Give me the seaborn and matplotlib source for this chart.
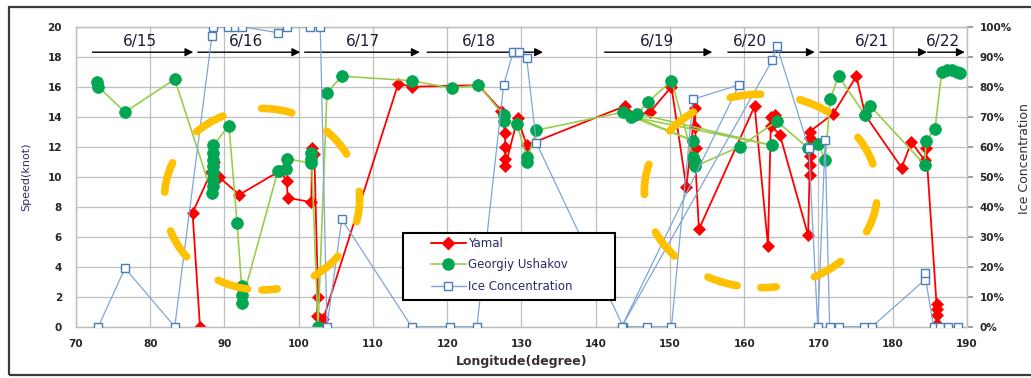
import matplotlib
matplotlib.use('Agg')
import matplotlib.pyplot as plt
import seaborn as sns
import pandas as pd
from matplotlib.patches import Ellipse, Rectangle
from matplotlib.lines import Line2D
from matplotlib.ticker import PercentFormatter

# ---------------- data ----------------
yamal_lon = [86.7, 85.7, 88.2, 88.6, 89.2, 92.0, 97.5, 98.4, 98.5, 101.7,
             101.8, 102.1, 102.6, 102.4, 103.3, 113.4, 115.2, 124.2, 127.3, 127.8,
             127.8, 127.8, 127.8, 129.5, 130.7, 143.9, 145.4, 147.3, 150.2, 152.2,
             153.4, 153.4, 153.5, 153.4, 153.9, 161.4, 163.2, 163.6, 164.2, 163.6,
             164.8, 168.6, 168.8, 168.8, 168.8, 168.8, 168.8, 172.0, 175.1, 176.3,
             181.2, 182.5, 184.3, 184.5, 185.9, 185.9, 186.0, 186.0]
yamal_speed = [0.0, 7.6, 10.3, 11.0, 10.0, 8.8, 10.4, 9.7, 8.6, 8.3,
               11.9, 11.5, 2.0, 0.7, 0.5, 16.2, 16.0, 16.1, 14.4, 12.9,
               12.0, 11.2, 10.7, 13.9, 12.1, 14.7, 14.1, 14.3, 16.0, 9.3,
               14.6, 13.3, 11.9, 11.1, 6.5, 14.7, 5.4, 14.0, 14.1, 13.4,
               12.8, 6.1, 10.1, 10.8, 11.4, 12.6, 13.0, 14.2, 16.7, 14.1,
               10.6, 12.3, 11.1, 11.9, 1.5, 1.2, 0.8, 0.2]

ush_lon = [72.8, 73.0, 76.6, 83.3,
           88.3, 88.4, 88.5, 88.5, 88.5, 88.5, 88.5, 88.5,
           90.6, 91.7, 92.3, 92.3, 92.3,
           97.2, 98.3, 98.4, 101.7, 101.7, 101.7, 102.6,
           103.8, 105.8, 115.2, 120.6, 124.2,
           127.6, 127.6, 129.4, 130.7, 130.7, 132.0,
           143.7, 153.1, 144.8, 163.7, 145.6, 147.1, 150.2,
           153.1, 153.4, 153.4, 159.4, 164.4, 168.6,
           170.0, 170.9, 171.6, 172.7, 176.3, 177.0,
           184.3, 184.5, 185.7, 186.6, 187.3, 188.0, 188.7, 189.1]
ush_speed = [16.3, 16.0, 14.3, 16.5,
             8.9, 9.4, 9.8, 10.3, 10.7, 11.1, 11.6, 12.1,
             13.4, 6.9, 2.7, 2.1, 1.6,
             10.4, 10.5, 11.2, 10.9, 11.2, 11.6, 0.0,
             15.6, 16.7, 16.4, 15.9, 16.1,
             14.1, 13.7, 13.5, 11.3, 11.0, 13.1,
             14.3, 12.4, 14.0, 12.1, 14.2, 15.0, 16.4,
             11.3, 11.0, 10.7, 12.0, 13.7, 11.9,
             12.2, 11.1, 15.2, 16.7, 14.1, 14.7,
             10.8, 12.4, 13.2, 17.0, 17.1, 17.1, 17.0, 16.9]

ice_lon = [73.0, 76.6, 83.3, 88.3, 88.5, 90.5, 91.4, 92.3, 97.2, 98.4,
           101.5, 102.9, 103.8, 105.8, 115.2, 120.4, 124.0, 127.6, 128.9, 129.6,
           130.7, 132.0, 143.7, 146.9, 150.2, 153.1, 159.3, 143.5, 163.8, 164.4,
           168.7, 169.9, 170.9, 171.5, 172.7, 176.1, 177.2, 184.3, 184.3, 185.5,
           186.3, 187.4, 188.8]
ice_pct = [0, 19.5, 0, 96.9, 100, 100, 100, 100, 98, 100,
           100, 100, 0, 35.8, 0, 0, 0, 80.6, 91.7, 91.7,
           89.5, 61.3, 0, 0, 0, 75.8, 80.6, 0, 88.9, 93.6,
           59.5, 0, 62.2, 0, 0, 0, 0, 15.6, 17.8, 0,
           0, 0, 0]

date_labels = ['6/15', '6/16', '6/17', '6/18', '6/19', '6/20', '6/21', '6/22']
date_label_lon = [78.6, 92.9, 108.6, 124.3, 148.2, 160.8, 177.2, 186.8]
arrow_start = [72.2, 86.4, 100.8, 117.3, 141.2, 157.8, 170.2, 184.7]
arrow_end = [85.8, 100.2, 116.3, 132.9, 155.7, 169.5, 184.6, 189.7]

series_names = ['Yamal', 'Georgiy Ushakov', 'Ice Concentration']

# ---------------- styling ----------------
sns.set_theme(style='white')
plt.rcParams['font.family'] = ['DejaVu Sans']

RED = '#FF0000'
GREEN_LINE = '#9ACD4A'
GREEN_MK = '#00A651'
BLUE_LINE = '#7FA6D6'
BLUE_MK = '#4A7EBB'
GRID = '#BFBFBF'
TXT = '#262626'

fig = plt.figure(figsize=(10.31, 3.78), dpi=100)
ax = fig.add_axes([0.0737, 0.1357, 0.8642, 0.7937])

df_y = pd.DataFrame({'lon': yamal_lon, 'speed': yamal_speed})
df_u = pd.DataFrame({'lon': ush_lon, 'speed': ush_speed})
df_i = pd.DataFrame({'lon': ice_lon, 'ice': ice_pct})

sns.lineplot(data=df_y, x='lon', y='speed', sort=False, estimator=None, ax=ax,
             color=RED, lw=1.3, marker='D', markersize=6,
             markerfacecolor=RED, markeredgecolor=RED, markeredgewidth=0.5,
             legend=False, zorder=3)
sns.lineplot(data=df_u, x='lon', y='speed', sort=False, estimator=None, ax=ax,
             color=GREEN_LINE, lw=1.2, marker='o', markersize=8.5,
             markerfacecolor=GREEN_MK, markeredgecolor=GREEN_MK, markeredgewidth=0.5,
             legend=False, zorder=4)

ax.set_xlim(70, 190)
ax.set_ylim(0, 20)
ax.set_xticks(range(70, 191, 10))
ax.set_yticks(range(0, 21, 2))
ax.grid(True, color=GRID, lw=0.9)
ax.set_axisbelow(True)
for s in ax.spines.values():
    s.set_color(GRID)
    s.set_linewidth(0.9)
ax.tick_params(axis='both', length=0, labelsize=7.5, colors=TXT)
ax.tick_params(axis='y', pad=10)
ax.tick_params(axis='x', pad=9)
for t in ax.get_xticklabels() + ax.get_yticklabels():
    t.set_fontweight('bold')
ax.set_xlabel('Longitude(degree)', fontsize=9, fontweight='bold', color='#3a3030')
ax.xaxis.set_label_coords(0.5, -0.093)
ax.set_ylabel('Speed(knot)', fontsize=8, color='#2a2f6a')
ax.yaxis.set_label_coords(-0.05, 0.5)

# date labels and arrows
for lab, lx in zip(date_labels, date_label_lon):
    ax.text(lx, 19.0, lab, ha='center', va='center', fontsize=11, color='#1c1c3a', zorder=5)
for xs, xe in zip(arrow_start, arrow_end):
    ax.annotate('', xy=(xe, 18.3), xytext=(xs, 18.3),
                arrowprops=dict(arrowstyle='-|>', color='black', lw=1.0,
                                shrinkA=0, shrinkB=0, mutation_scale=12), zorder=5)

# secondary axis
ax2 = ax.twinx()
sns.lineplot(data=df_i, x='lon', y='ice', sort=False, estimator=None, ax=ax2,
             color=BLUE_LINE, lw=0.9, marker='s', markersize=5.5,
             markerfacecolor='white', markeredgecolor=BLUE_MK, markeredgewidth=1.0,
             legend=False, zorder=3)
ax2.set_ylim(0, 100)
ax2.set_xlim(70, 190)
ax2.set_yticks(range(0, 101, 10))
ax2.yaxis.set_major_formatter(PercentFormatter(xmax=100, decimals=0))
ax2.grid(False)
for s in ax2.spines.values():
    s.set_color(GRID)
    s.set_linewidth(0.9)
ax2.tick_params(axis='y', length=4, color='#909090', labelsize=7.5, colors=TXT, pad=5)
ax2.tick_params(axis='y', color='#909090')
for t in ax2.get_yticklabels():
    t.set_fontweight('bold')
ax2.set_ylabel('Ice Concentration', fontsize=9, color='#303030', rotation=90)
ax2.yaxis.set_label_coords(1.057, 0.56)
ax2.set_xlabel('')

# legend with own frame
frame = Rectangle((0.367, 0.089), 0.238, 0.223, transform=ax2.transAxes,
                  facecolor='white', edgecolor='black', lw=1.5, zorder=6)
ax2.add_patch(frame)
handles = [
    Line2D([0], [0], color=RED, lw=1.4, marker='D', markersize=6,
           markerfacecolor=RED, markeredgecolor=RED),
    Line2D([0], [0], color=GREEN_LINE, lw=1.2, marker='o', markersize=8,
           markerfacecolor=GREEN_MK, markeredgecolor=GREEN_MK),
    Line2D([0], [0], color=BLUE_LINE, lw=1.0, marker='s', markersize=5.5,
           markerfacecolor='white', markeredgecolor=BLUE_MK),
]
leg = ax2.legend(handles, series_names, loc='upper left', bbox_to_anchor=(0.398, 0.300),
                 frameon=False, fontsize=8.5, handlelength=3.0, handletextpad=0.2,
                 labelspacing=0.72, borderpad=0, borderaxespad=0)
leg.set_zorder(7)
for t in leg.get_texts():
    t.set_color('#2a2a6a')

# orange dashed ellipses (annotation)
for cx, cy, w, h in [(95.05, 8.5, 26.3, 12.1), (162.25, 9.05, 31.4, 12.9)]:
    e = Ellipse((cx, cy), w, h, transform=ax.transData, fill=False,
                edgecolor='#FFC000', lw=5.5, linestyle=(2, (4, 5.2)),
                capstyle='round', zorder=10, clip_on=False)
    ax2.add_patch(e)

# outer chart border
fig.patches.append(Rectangle((0.0087, 0.008), 1.2, 0.9735, transform=fig.transFigure,
                             fill=False, edgecolor='#3a3a3a', lw=1.6))

fig.savefig('out.png', dpi=100)
